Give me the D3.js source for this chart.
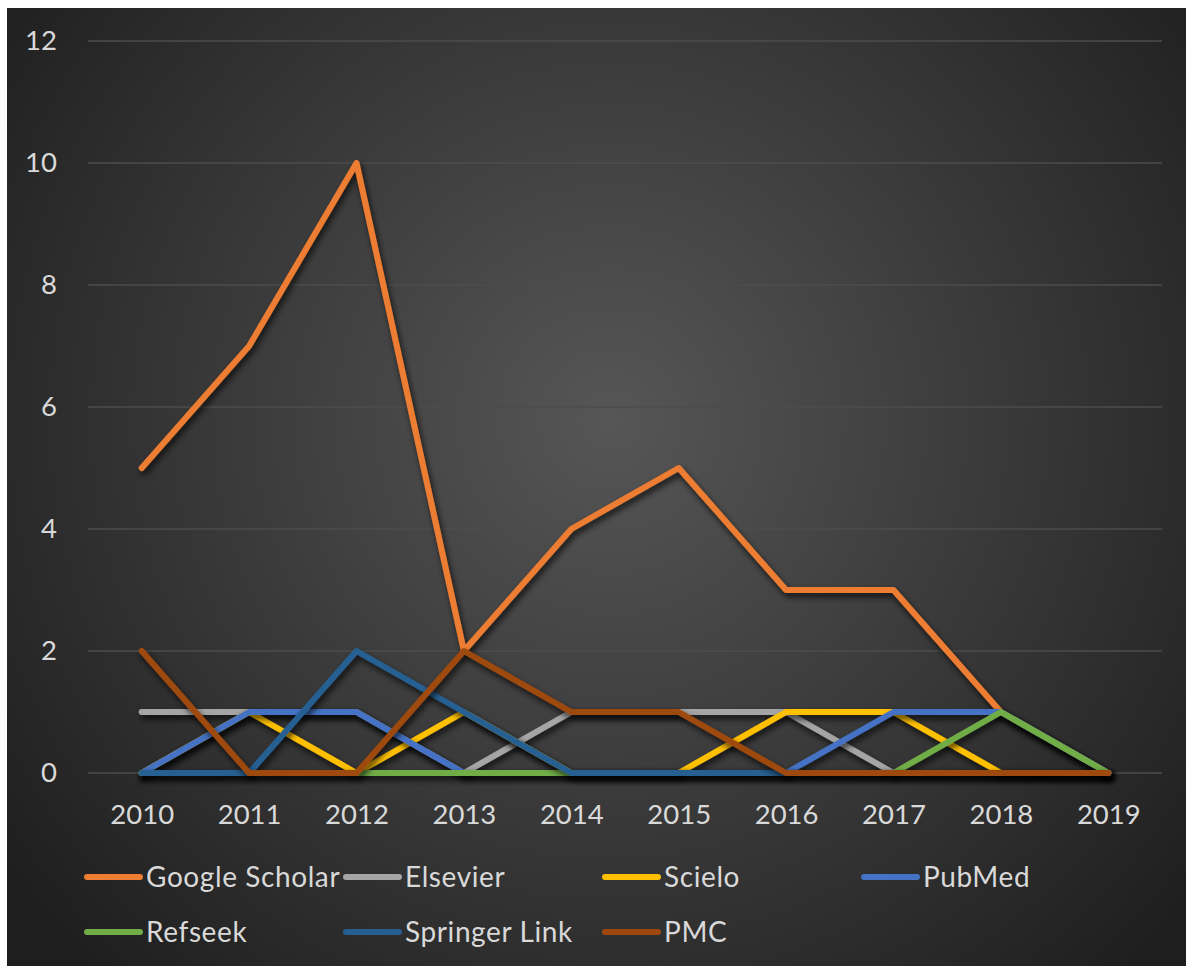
<!DOCTYPE html>
<html><head><meta charset="utf-8">
<script src="https://cdn.jsdelivr.net/npm/d3@7"></script>
<style>html,body{margin:0;padding:0;background:#fff;}</style>
</head><body>
<svg id="c" width="1186" height="966"></svg>
<script>
const years = ["2010","2011","2012","2013","2014","2015","2016","2017","2018","2019"];
const googleScholar = [5,7,10,2,4,5,3,3,1,0];
const elsevier      = [1,1,1,0,1,1,1,0,0,0];
const scielo        = [0,1,0,1,0,0,1,1,0,0];
const pubMed        = [0,1,1,0,0,0,0,1,1,0];
const refseek       = [0,0,0,0,0,0,0,0,1,0];
const springerLink  = [0,0,2,1,0,0,0,0,0,0];
const pmc           = [2,0,0,2,1,1,0,0,0,0];
const yTicks = [0,2,4,6,8,10,12];
const seriesNames = ["Google Scholar","Elsevier","Scielo","PubMed","Refseek","Springer Link","PMC"];
const seriesColors = ["#ed7d31","#a5a5a5","#ffc000","#4472c4","#70ad47","#255e91","#9e480e"];

const series = seriesNames.map((n,i)=>({name:n,color:seriesColors[i],
  values:[googleScholar,elsevier,scielo,pubMed,refseek,springerLink,pmc][i]}));

const svg = d3.select("#c");
const defs = svg.append("defs");
const rg = defs.append("radialGradient").attr("id","bg")
  .attr("gradientUnits","userSpaceOnUse").attr("cx",610).attr("cy",420).attr("r",760);
rg.append("stop").attr("offset","0%").attr("stop-color","#565656");
rg.append("stop").attr("offset","100%").attr("stop-color","#1e1e1e");
const f = defs.append("filter").attr("id","sh").attr("x","-10%").attr("y","-10%").attr("width","120%").attr("height","130%");
f.append("feDropShadow").attr("dx",2).attr("dy",4).attr("stdDeviation",3).attr("flood-color","#000").attr("flood-opacity",0.75);

svg.append("rect").attr("x",7).attr("y",8).attr("width",1179).attr("height",958).attr("fill","url(#bg)");

const pL=88, pR=1162, pT=41, pB=773;
const x = d3.scalePoint().domain(years).range([pL,pR]).padding(0.5);
const y = d3.scaleLinear().domain([0,12]).range([pB,pT]);

svg.append("g").selectAll("line").data(yTicks).join("line")
  .attr("x1",pL).attr("x2",pR).attr("y1",d=>y(d)).attr("y2",d=>y(d))
  .attr("stroke","#4d4d4d").attr("stroke-width",1.5);

const font = "Lato, 'Open Sans', sans-serif";
const yAxis = svg.append("g").attr("transform",`translate(${pL},0)`)
  .call(d3.axisLeft(y).tickValues(yTicks).tickSize(0).tickPadding(31));
yAxis.select(".domain").remove();
yAxis.selectAll("text").attr("fill","#d9d9d9").style("font-family",font).style("font-size","27.5px");

const xAxis = svg.append("g").attr("transform",`translate(0,${pB})`)
  .call(d3.axisBottom(x).tickSize(0).tickPadding(31));
xAxis.select(".domain").remove();
xAxis.selectAll("text").attr("fill","#d9d9d9").style("font-family",font).style("font-size","27.5px");

const line = d3.line().x((d,i)=>x(years[i])).y(d=>y(d));
svg.append("g").selectAll("path").data(series).join("path")
  .attr("d",d=>line(d.values)).attr("fill","none").attr("stroke",d=>d.color)
  .attr("stroke-width",6).attr("stroke-linejoin","round").attr("stroke-linecap","round")
  .attr("filter","url(#sh)");

const legX = [87,346,605,864], legY = [877,932];
const lg = svg.append("g").selectAll("g").data(series).join("g")
  .attr("transform",(d,i)=>`translate(${legX[i%4]},${legY[Math.floor(i/4)]})`);
lg.append("line").attr("x1",0).attr("x2",53).attr("y1",0).attr("y2",0)
  .attr("stroke",d=>d.color).attr("stroke-width",6).attr("stroke-linecap","round");
lg.append("text").attr("x",59).attr("y",0).attr("dy","0.36em").text(d=>d.name)
  .attr("fill","#d9d9d9").style("font-family",font).style("font-size","28px")
  .style("letter-spacing","0.6px");
</script>
</body></html>
